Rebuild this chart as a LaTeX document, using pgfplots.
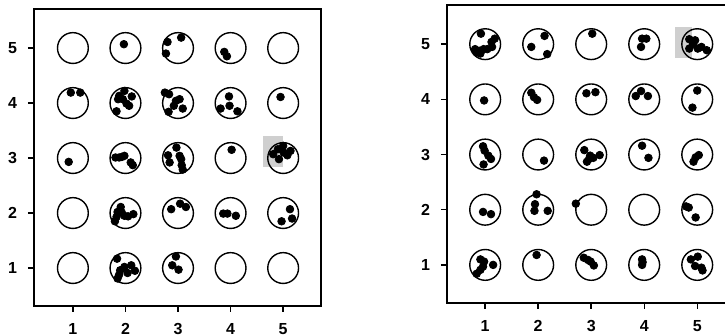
\documentclass[border=0pt]{standalone}
\usepackage{fontspec}
\setmainfont{Liberation Sans}
\usepackage{pgfplots}
\pgfplotsset{compat=1.18}

\pgfplotsset{
  cells/.style={
    scale only axis,
    height=148.5pt,
    ymin=0.31, ymax=5.71,
    xtick={1,2,3,4,5}, ytick={1,2,3,4,5},
    tick align=outside, tick pos=left,
    major tick length=3pt,
    axis line style={line width=0.8pt},
    every tick/.style={black, line width=0.7pt},
    tick label style={font=\fontsize{8}{10}\selectfont\bfseries},
    xticklabel style={yshift=-1pt},
    yticklabel style={xshift=-1pt},
    /pgf/number format/assume math mode=true,
  },
  ring/.style={only marks, mark=o, mark size=7.7pt, mark options={line width=0.7pt, black}},
  dot/.style={only marks, mark=*, mark size=1.9pt, black, mark options={fill=black}},
  shade/.style={fill=gray!38, draw=none},
}

\begin{document}
\begin{tikzpicture}
\useasboundingbox (0,0) rectangle (362.5pt,167.5pt);
\clip (0,0) rectangle (362.5pt,167.5pt);

% left panel
\begin{axis}[cells, at={(17pt,14.5pt)}, anchor=south west,
    width=143.5pt, xmin=0.26, xmax=5.72]
  \addplot[shade] coordinates {(4.62,2.84) (5.0,2.84) (5.0,3.40) (4.62,3.40)} -- cycle;
  \addplot[ring] coordinates {
    (1,1) (2,1) (3,1) (4,1) (5,1)
    (1,2) (2,2) (3,2) (4,2) (5,2)
    (1,3) (2,3) (3,3) (4,3) (5,3)
    (1,4) (2,4) (3,4) (4,4) (5,4)
    (1,5) (2,5) (3,5) (4,5) (5,5)};
  \addplot[dot] coordinates {
    (1.97,5.07)
    (2.80,5.11) (3.06,5.19) (2.77,4.90)
    (3.88,4.93) (3.93,4.85)
    (0.96,4.19) (1.14,4.19)
    (1.98,4.22) (1.88,4.13) (2.12,4.12) (1.86,4.07) (1.95,4.07) (2.02,3.99) (2.07,3.95) (1.83,3.85)
    (2.75,4.19) (2.83,4.16) (3.03,4.07) (2.96,4.04) (2.92,3.95) (3.09,3.90) (2.82,3.84)
    (3.97,4.12) (3.98,3.95) (3.81,3.90) (4.13,3.85)
    (4.95,4.11)
    (0.92,2.93)
    (1.81,3.01) (1.88,3.01) (1.93,3.02) (1.98,3.04) (2.10,2.92) (2.14,2.87)
    (2.97,3.19) (2.81,3.05) (3.03,3.04) (3.06,2.98) (2.84,2.92) (3.07,2.87) (3.09,2.79)
    (4.02,3.15)
    (4.81,3.07) (4.90,3.16) (5.00,3.22) (5.01,3.10) (5.14,3.13) (5.08,3.05) (4.92,2.98)
    (1.91,2.11) (1.85,2.02) (1.93,2.01) (1.83,1.93) (1.80,1.85) (1.98,1.95) (2.05,1.94) (2.15,1.98)
    (2.87,2.07) (3.04,2.17) (3.15,2.11)
    (3.86,1.99) (3.94,1.99) (4.10,1.95)
    (5.13,2.07) (5.17,1.90) (4.97,1.85)
    (1.84,1.17) (1.98,1.02) (2.11,1.05) (2.18,0.95) (2.04,0.91) (1.90,0.96) (1.88,0.88) (1.85,0.81)
    (2.96,1.21) (2.89,1.05) (3.01,0.97)};
\end{axis}

% right panel
\begin{axis}[cells, at={(223.5pt,16pt)}, anchor=south west,
    height=149pt, width=144.2pt, xmin=0.28, xmax=5.72]
  \addplot[shade] coordinates {(4.58,4.75) (4.90,4.75) (4.90,5.31) (4.58,5.31)} -- cycle;
  \addplot[ring] coordinates {
    (1,1) (2,1) (3,1) (4,1) (5,1)
    (1,2) (2,2) (3,2) (4,2) (5,2)
    (1,3) (2,3) (3,3) (4,3) (5,3)
    (1,4) (2,4) (3,4) (4,4) (5,4)
    (1,5) (2,5) (3,5) (4,5) (5,5)};
  \addplot[dot] coordinates {
    (0.92,5.19) (1.18,5.10) (1.12,5.04) (1.13,4.95) (1.04,4.91) (0.97,4.91) (0.89,4.88) (0.81,4.91) (0.84,4.85) (0.91,4.83)
    (2.12,5.15) (1.87,4.95) (2.17,4.82)
    (3.02,5.19)
    (3.96,5.10) (4.04,5.10) (3.94,4.95)
    (4.85,5.09) (4.96,5.07) (4.92,5.00) (4.85,4.92) (5.01,4.92) (5.08,4.95) (5.18,4.89)
    (0.98,3.98)
    (1.87,4.12) (1.92,4.04) (1.98,3.99)
    (2.91,4.11) (3.08,4.13)
    (3.84,4.06) (3.94,4.15) (4.07,4.06)
    (5.00,4.16) (4.91,3.85)
    (0.96,3.15) (0.99,3.07) (1.06,2.98) (1.11,2.92) (0.97,2.82)
    (2.11,2.89)
    (2.87,3.08) (2.98,2.98) (3.04,2.94) (2.92,2.87) (2.96,2.92) (3.16,2.99)
    (3.96,3.16) (4.08,2.94)
    (5.03,2.99) (4.97,2.95) (4.93,2.87)
    (0.96,1.96) (1.11,1.92)
    (1.97,2.28) (1.94,2.10) (1.93,1.98) (2.18,1.98)
    (2.71,2.11)
    (4.79,2.06) (4.84,2.04) (4.97,1.86)
    (0.91,1.10) (0.98,1.06) (0.96,0.97) (0.91,0.91) (0.84,0.84) (1.15,1.00)
    (1.97,1.18)
    (2.86,1.13) (2.94,1.09) (2.99,1.06) (3.05,0.99)
    (3.96,1.10) (3.97,1.05) (3.96,1.00)
    (4.88,1.10) (5.01,1.15) (4.96,0.98) (5.08,0.95) (5.10,0.90)};
\end{axis}
\end{tikzpicture}
\end{document}
